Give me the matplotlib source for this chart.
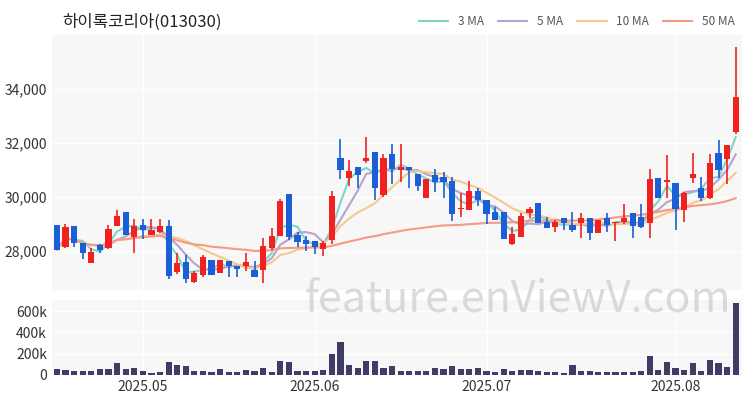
import matplotlib
matplotlib.use("Agg")
import matplotlib.pyplot as plt
import numpy as np
import pandas as pd

plt.rcParams['font.family'] = ['Noto Sans CJK KR', 'DejaVu Sans']

opens = [28970, 28150, 28910, 28300, 27550, 28200, 28110, 28940, 29430, 28520,
         28970, 28600, 28690, 28910, 27210, 27590, 26840, 27120, 27650, 27180,
         27640, 27430, 27430, 27300, 27300, 28110, 28540, 30120, 28570, 28420,
         28360, 28070, 28420, 31440, 30700, 31100, 31320, 31660, 30080, 31600,
         30990, 31100, 30850, 29960, 30830, 30740, 30580, 29540, 29500, 30210,
         29900, 29430, 29450, 28260, 28500, 29390, 29760, 29080, 28900, 29210,
         28960, 29020, 29210, 28650, 29210, 29020, 29080, 29420, 29250, 29020,
         30710, 30570, 30510, 29510, 30690, 30320, 29950, 31620, 31400, 32420]
closes = [28050, 28890, 28300, 27920, 27950, 28050, 28810, 29280, 28600, 28940,
          28790, 28790, 28910, 27080, 27550, 26960, 27180, 27760, 27120, 27650,
          27430, 27330, 27580, 27030, 28170, 28540, 29840, 28520, 28320, 28270,
          28150, 28300, 30050, 31010, 30950, 30830, 31440, 30330, 31440, 31040,
          31100, 30990, 30390, 30660, 30540, 30540, 29380, 29580, 30210, 29900,
          29380, 29160, 28430, 28630, 29290, 29540, 29050, 28840, 29080, 29020,
          28780, 29210, 28650, 29150, 28960, 29080, 29210, 28920, 28900, 30670,
          29950, 30600, 29540, 30130, 30850, 29950, 31270, 31000, 31930, 33720]
highs = [28970, 29000, 28940, 28300, 28110, 28270, 28970, 29500, 29430, 29180,
         29180, 29180, 29180, 29160, 27920, 27830, 27240, 27860, 27650, 27650,
         27640, 27430, 27920, 27610, 28480, 28850, 29940, 30120, 28690, 28540,
         28360, 28360, 30210, 32160, 31360, 31100, 32220, 31660, 31600, 31970,
         31960, 31100, 30850, 30660, 31050, 30910, 30740, 30140, 30580, 30330,
         29900, 29630, 29450, 28900, 29420, 29640, 29760, 29270, 29150, 29210,
         29450, 29390, 29210, 29150, 29420, 29080, 29740, 29420, 29740, 31020,
         30710, 31560, 30510, 30200, 31640, 30750, 31590, 32110, 31930, 35540]
lows = [28050, 28110, 28150, 27700, 27550, 27920, 28070, 28940, 28600, 27920,
        28440, 28600, 28660, 26940, 27150, 26810, 26810, 27030, 27120, 27180,
        27030, 27030, 27240, 27030, 26810, 28020, 28540, 28420, 28150, 27980,
        27870, 27800, 28270, 30660, 30410, 30330, 31260, 29890, 29990, 30480,
        30540, 30330, 30210, 29960, 30180, 29960, 29100, 29270, 29500, 29680,
        29010, 29140, 28430, 28220, 28500, 29210, 29050, 28840, 28710, 28780,
        28710, 28470, 28410, 28650, 28710, 28380, 29000, 28470, 28840, 28470,
        29950, 29950, 28780, 29080, 30510, 29860, 29910, 30690, 30480, 32330]
volumes = [52, 45, 39, 39, 39, 52, 52, 116, 52, 65,
           39, 19, 32, 123, 90, 84, 39, 39, 32, 52,
           32, 26, 45, 39, 65, 26, 129, 123, 39, 39,
           39, 45, 194, 310, 97, 65, 135, 135, 65, 84,
           39, 39, 39, 39, 65, 52, 84, 58, 52, 65,
           39, 32, 58, 39, 45, 45, 39, 26, 26, 19,
           97, 39, 39, 32, 26, 32, 32, 32, 39, 181,
           45, 123, 65, 45, 116, 39, 142, 110, 71, 677]
volumes = [v * 1000 for v in volumes]

tick_pos = [10, 30, 50, 72]
tick_labels = ['2025.05', '2025.06', '2025.07', '2025.08']
ma_windows = [3, 5, 10, 50]
ma_colors = ['#7fd6c8', '#b7a3cf', '#f5c98c', '#f59a85']

up_color = '#f0211f'
down_color = '#1a5fd6'
bg = '#f7f7f7'

fig = plt.figure(figsize=(7.5, 4), dpi=100)
ax = fig.add_axes([0.069, 0.275, 0.92, 0.6375])
axv = fig.add_axes([0.069, 0.0625, 0.92, 0.1875])

x = np.arange(len(closes))
close_s = pd.Series(closes)

for i in x:
    c = up_color if closes[i] >= opens[i] else down_color
    ax.vlines(i, lows[i], highs[i], color=c, linewidth=1.2, zorder=3)
    lo = min(opens[i], closes[i])
    h = max(abs(closes[i] - opens[i]), 40)
    ax.bar(i, h, bottom=lo, width=0.72, color=c, zorder=3)

for w, col in zip(ma_windows, ma_colors):
    ma = close_s.rolling(w, min_periods=1).mean()
    ax.plot(x, ma, color=col, linewidth=1.5, label=f'{w} MA', zorder=2)

axv.bar(x, volumes, width=0.72, color='#3d3d66')

for a in (ax, axv):
    a.set_facecolor(bg)
    a.set_xlim(-0.6, 79.7)
    for s in a.spines.values():
        s.set_visible(False)
    a.set_xticks(tick_pos)
    a.grid(True, color='white', linewidth=1)
    a.set_axisbelow(True)
    a.tick_params(length=0, labelsize=10, colors='#333333')

ax.set_ylim(26550, 36000)
ax.set_yticks([28000, 30000, 32000, 34000])
ax.set_yticklabels(['28,000', '30,000', '32,000', '34,000'])
ax.set_xticklabels([])

axv.set_ylim(0, 705000)
axv.set_yticks([0, 200000, 400000, 600000])
axv.set_yticklabels(['0', '200k', '400k', '600k'])
axv.set_xticklabels(tick_labels)

fig.text(0.083, 0.945, '하이록코리아(013030)', fontsize=12, color='#222222', va='center')
leg = ax.legend(loc='lower right', bbox_to_anchor=(1.0, 1.0), ncol=4, frameon=False,
                fontsize=8.5, handlelength=2.5, columnspacing=1.2, borderaxespad=0.2)
for t in leg.get_texts():
    t.set_color('#555555')

fig.text(0.69, 0.25, 'feature.enViewV.com', fontsize=31, color='#cccccc', alpha=0.7,
         ha='center', va='center', zorder=10)

fig.savefig('out.png')
